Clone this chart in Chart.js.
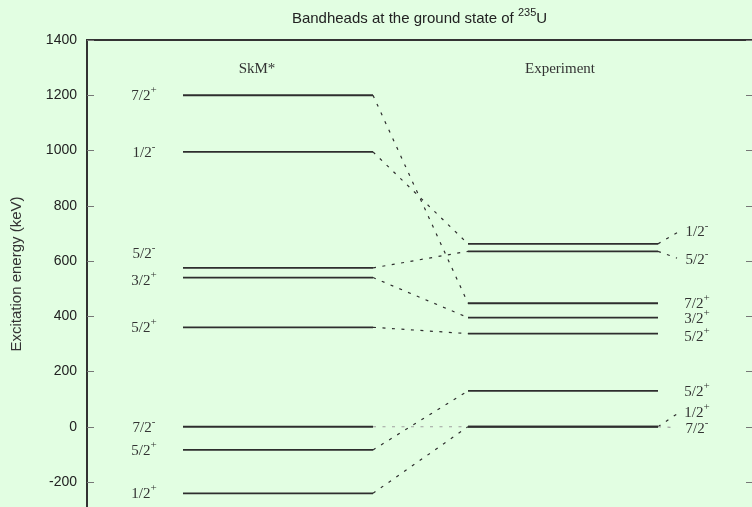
<!DOCTYPE html>
<html><head><meta charset="utf-8">
<script src="https://cdn.jsdelivr.net/npm/chart.js@4/dist/chart.umd.min.js"></script>
<style>html,body{margin:0;padding:0;overflow:hidden;background:#e2fee2;}#wrap{width:752px;height:507px;overflow:hidden;}</style>
</head><body><div id="wrap"><canvas id="c" width="752" height="528"></canvas></div>
<script>
// ---------- data ----------
const yTicks = [-200, 0, 200, 400, 600, 800, 1000, 1200, 1400];
const modelNames = ['SkM*', 'Experiment'];
const skmSpins = ['7/2+', '1/2-', '5/2-', '3/2+', '5/2+', '7/2-', '5/2+', '1/2+'];
const skmEnergies = [1200, 995, 575, 540, 360, 0, -84, -241];
const expSpins = ['1/2-', '5/2-', '7/2+', '3/2+', '5/2+', '5/2+', '1/2+', '7/2-'];
const expEnergies = [662, 635, 447, 395, 337, 130, 0.08, 0];
// links: SkM* level index -> Experiment level index (same spin/parity)
const linkFrom = [0, 1, 2, 3, 4, 5, 6, 7];
const linkTo   = [2, 0, 1, 3, 4, 7, 5, 6];
const titleMain = 'Bandheads at the ground state of ';
const titleSup = '235';
const titleTail = 'U';
const yTitle = 'Excitation energy (keV)';

// ---------- layout (pixels from the left axis) ----------
const SKM_X = [96, 286], EXP_X = [381, 571];
const SKM_LABEL_X = 57, EXP_LABEL_X = 610, LEADER_END_X = 590;
const skmLabelDy = [0, 0, -15, 2, 0, 0, 0, 0];
const expLabelDy = [-13, 8, 0, 0, 2, 0, -15, 1];
const expLeader = ['dark', 'dark', null, null, null, null, 'dark', 'gray'];
const NAME_X = [170, 473], NAME_Y = 68;
const LINE_COL = '#2e2e2e', GRAY = '#a0a0a0';
const DASH = [3, 6.5];
const SERIF = '"Liberation Serif", "DejaVu Serif", serif';
const SANS = '"Liberation Sans", Arial, sans-serif';

const datasets = [];
skmEnergies.forEach(e => datasets.push({data: [{x: SKM_X[0], y: e}, {x: SKM_X[1], y: e}],
  borderColor: LINE_COL, borderWidth: 1.8, pointRadius: 0, showLine: true}));
expEnergies.forEach(e => datasets.push({data: [{x: EXP_X[0], y: e}, {x: EXP_X[1], y: e}],
  borderColor: LINE_COL, borderWidth: 1.8, pointRadius: 0, showLine: true}));
linkFrom.forEach((f, k) => {
  const t = linkTo[k];
  const gray = skmSpins[f] === '7/2-';
  datasets.push({data: [{x: SKM_X[1], y: skmEnergies[f]}, {x: EXP_X[0], y: expEnergies[t]}],
    borderColor: gray ? GRAY : LINE_COL, borderWidth: 1.2, borderDash: DASH, pointRadius: 0, showLine: true});
});

function drawSpin(ctx, s, cx, cy) {
  const base = s.slice(0, -1), sup = s.slice(-1);
  ctx.font = '15px ' + SERIF; const wb = ctx.measureText(base).width;
  ctx.font = '11px ' + SERIF; const ws = ctx.measureText(sup).width;
  const x0 = cx - (wb + ws) / 2;
  ctx.textAlign = 'left'; ctx.textBaseline = 'alphabetic';
  ctx.font = '15px ' + SERIF; ctx.fillText(base, x0, cy + 5);
  ctx.font = '11px ' + SERIF; ctx.fillText(sup, x0 + wb, cy - 2);
}

const deco = {
  id: 'deco',
  beforeDraw(chart) {
    const ctx = chart.ctx; ctx.save(); ctx.fillStyle = '#e2fee2';
    ctx.fillRect(0, 0, chart.width, chart.height); ctx.restore();
  },
  afterDraw(chart) {
    const ctx = chart.ctx, a = chart.chartArea, xs = chart.scales.x, ys = chart.scales.y;
    ctx.save();
    // frame
    ctx.strokeStyle = '#333'; ctx.lineWidth = 2;
    ctx.beginPath(); ctx.moveTo(a.left, a.bottom + 2); ctx.lineTo(a.left, a.top); ctx.lineTo(a.right, a.top); ctx.stroke();
    // inward ticks
    ctx.strokeStyle = '#777'; ctx.lineWidth = 1;
    yTicks.forEach(v => {
      const y = Math.round(ys.getPixelForValue(v)) + 0.5;
      ctx.beginPath(); ctx.moveTo(a.left, y); ctx.lineTo(a.left + 7, y);
      ctx.moveTo(a.right - 6, y); ctx.lineTo(a.right, y); ctx.stroke();
    });
    // leaders for experiment labels
    ctx.lineWidth = 1.2;
    expEnergies.forEach((e, i) => {
      if (!expLeader[i]) return;
      ctx.strokeStyle = expLeader[i] === 'gray' ? GRAY : LINE_COL;
      ctx.setLineDash(DASH);
      ctx.beginPath();
      ctx.moveTo(xs.getPixelForValue(EXP_X[1]), ys.getPixelForValue(e));
      ctx.lineTo(xs.getPixelForValue(LEADER_END_X), ys.getPixelForValue(e) + expLabelDy[i] * 0.85);
      ctx.stroke();
    });
    ctx.setLineDash([]);
    // spin labels
    ctx.fillStyle = '#333';
    skmSpins.forEach((s, i) => drawSpin(ctx, s, xs.getPixelForValue(SKM_LABEL_X), ys.getPixelForValue(skmEnergies[i]) + skmLabelDy[i]));
    expSpins.forEach((s, i) => drawSpin(ctx, s, xs.getPixelForValue(EXP_LABEL_X), ys.getPixelForValue(expEnergies[i]) + expLabelDy[i]));
    // model names
    ctx.font = '15px ' + SERIF; ctx.textAlign = 'center'; ctx.textBaseline = 'alphabetic';
    modelNames.forEach((n, i) => ctx.fillText(n, xs.getPixelForValue(NAME_X[i]), NAME_Y + 5));
    // title
    ctx.fillStyle = '#222';
    ctx.font = '15px ' + SANS; const w1 = ctx.measureText(titleMain).width, w3 = ctx.measureText(titleTail).width;
    ctx.font = '11px ' + SANS; const w2 = ctx.measureText(titleSup).width;
    const cx = (a.left + a.right) / 2; let x = cx - (w1 + w2 + w3) / 2;
    ctx.textAlign = 'left';
    ctx.font = '15px ' + SANS; ctx.fillText(titleMain, x, 23);
    ctx.font = '11px ' + SANS; ctx.fillText(titleSup, x + w1, 16);
    ctx.font = '15px ' + SANS; ctx.fillText(titleTail, x + w1 + w2, 23);
    // y axis title
    ctx.save(); ctx.translate(17, 274); ctx.rotate(-Math.PI / 2);
    ctx.textAlign = 'center'; ctx.textBaseline = 'middle'; ctx.font = '15px ' + SANS; ctx.fillStyle = '#333';
    ctx.fillText(yTitle, 0, 0); ctx.restore();
    ctx.restore();
  }
};

new Chart(document.getElementById('c'), {
  type: 'scatter',
  data: {datasets},
  options: {
    responsive: false, animation: false, devicePixelRatio: 1,
    layout: {padding: {top: 40, right: 0, bottom: 0, left: 0}},
    plugins: {legend: {display: false}, tooltip: {enabled: false}, title: {display: false}},
    scales: {
      x: {type: 'linear', min: 0, max: 665, display: false},
      y: {
        type: 'linear', min: -300, max: 1400,
        afterBuildTicks: s => { s.ticks = yTicks.map(v => ({value: v})); },
        afterFit: s => { s.width = 87; },
        grid: {display: false, drawTicks: false},
        border: {display: false},
        ticks: {padding: 10, color: '#222', font: {family: SANS, size: 14}, callback: v => String(v)}
      }
    }
  },
  plugins: [deco]
});
</script></body></html>
